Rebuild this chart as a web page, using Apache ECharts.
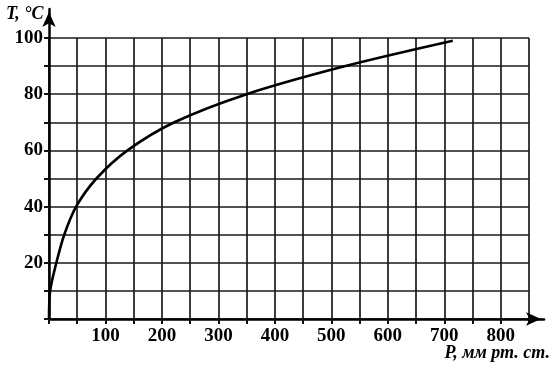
<!DOCTYPE html>
<html><head><meta charset="utf-8">
<script src="https://cdn.jsdelivr.net/npm/echarts@6/dist/echarts.min.js"></script>
<style>html,body{margin:0;padding:0;background:#fff}#c{width:552px;height:370px}</style>
</head><body><div id="c"></div>
<script>
// Data
const pressure = [0, 2, 13, 27, 48, 84, 139, 222, 350, 525, 715];   // P, мм рт. ст.
const temperature = [0, 10, 20, 30, 40, 50, 60, 70, 80, 90, 99];    // T, °C
const xTickLabels = [100, 200, 300, 400, 500, 600, 700, 800];
const yTickLabels = [20, 40, 60, 80, 100];

const FONT = '"Liberation Serif", "DejaVu Serif", serif';
const chart = echarts.init(document.getElementById('c'), null, {renderer: 'canvas'});
const points = pressure.map((p, i) => [p, temperature[i]]);

chart.setOption({
  animation: false,
  backgroundColor: '#fff',
  grid: [
    {left: 49, right: 23, top: 38, bottom: 51},   // plotting grid 0..850 x 0..100
    {left: 49, right: 8, top: 9, bottom: 51}      // axis-line grid with arrows
  ],
  xAxis: [
    {
      gridIndex: 0, type: 'value', min: 0, max: 850, interval: 50,
      axisLine: {show: false},
      axisTick: {show: true, length: 5, lineStyle: {color: '#111', width: 2}},
      splitLine: {show: true, lineStyle: {color: '#1a1a1a', width: 1.7}},
      axisLabel: {
        margin: 8, color: '#000', fontFamily: FONT, fontWeight: 'bold', fontSize: 19,
        formatter: v => xTickLabels.includes(v) ? String(v) : ''
      }
    },
    {
      gridIndex: 1, type: 'value', min: 0, max: 877,
      axisLine: {show: true, lineStyle: {color: '#000', width: 2.5}, symbol: ['none', 'arrow'], symbolSize: [10, 15], symbolOffset: [0, -3]},
      axisTick: {show: false}, axisLabel: {show: false}, splitLine: {show: false}
    }
  ],
  yAxis: [
    {
      gridIndex: 0, type: 'value', min: 0, max: 100, interval: 10,
      axisLine: {show: false},
      axisTick: {show: true, length: 5, lineStyle: {color: '#111', width: 2}},
      splitLine: {show: true, lineStyle: {color: '#1a1a1a', width: 1.7}},
      axisLabel: {
        margin: 6, color: '#000', fontFamily: FONT, fontWeight: 'bold', fontSize: 19,
        formatter: v => yTickLabels.includes(v) ? String(v) : ''
      }
    },
    {
      gridIndex: 1, type: 'value', min: 0, max: 110,
      axisLine: {show: true, lineStyle: {color: '#000', width: 2.5}, symbol: ['none', 'arrow'], symbolSize: [10, 15], symbolOffset: [0, -3]},
      axisTick: {show: false}, axisLabel: {show: false}, splitLine: {show: false}
    }
  ],
  series: [{
    type: 'line', xAxisIndex: 0, yAxisIndex: 0, data: points,
    smooth: 0.3, showSymbol: false, symbol: 'none',
    lineStyle: {color: '#000', width: 2.6}, z: 5
  }],
  graphic: [
    {type: 'text', left: 6, top: 5, style: {text: 'T, °C', font: 'italic bold 18px ' + FONT, fill: '#000'}},
    {type: 'text', right: 2, top: 344, style: {text: 'P, мм рт. ст.', font: 'italic bold 18px ' + FONT, fill: '#000'}}
  ]
});
</script>
</body></html>
